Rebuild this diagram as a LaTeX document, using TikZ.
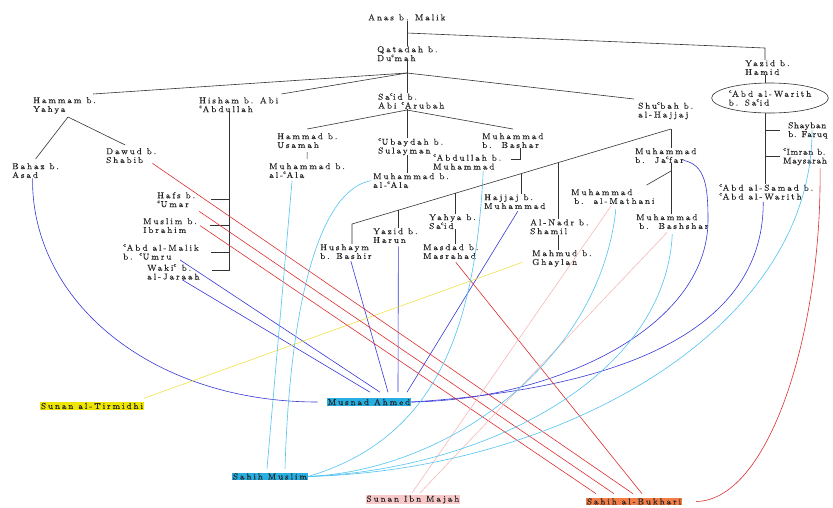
\documentclass[tikz,border=0pt]{standalone}
\usepackage{fontspec}
\usetikzlibrary{shapes.geometric,calc}
\newfontfamily\treeface{lmroman8-regular.otf}[LetterSpace=22,FakeBold=0.3]
\newfontfamily\tightface{lmroman8-regular.otf}[LetterSpace=8,FakeBold=0.3]
\newcommand{\treefont}{\treeface\fontsize{8.6}{8.8}\selectfont}
\newcommand{\tightfont}{\tightface\fontsize{8.6}{8.8}\selectfont}
\newcommand{\ayn}{\textsuperscript{c}}
\definecolor{tirm}{RGB}{238,230,0}
\definecolor{ahmd}{RGB}{40,175,225}
\definecolor{mjh}{RGB}{248,200,200}
\definecolor{bkh}{RGB}{242,125,70}
\definecolor{lnblue}{RGB}{55,55,215}
\definecolor{lncyan}{RGB}{80,195,240}
\definecolor{lnred}{RGB}{220,45,45}
\definecolor{lnpink}{RGB}{246,185,185}
\definecolor{lnyel}{RGB}{240,225,70}
\begin{document}
\begin{tikzpicture}[x=1pt,y=-1pt,
  narr/.style={anchor=north west,align=left,inner sep=0pt,font=\treefont,text=black!85},
  book/.style={fill=#1,inner xsep=1pt,inner ysep=0.5pt,font=\treefont,text=black!85},
  stem/.style={draw=black!80,line width=0.6pt},
  bl/.style={draw=lnblue,line width=0.6pt},
  cy/.style={draw=lncyan,line width=0.6pt},
  rd/.style={draw=lnred,line width=0.6pt},
  pk/.style={draw=lnpink,line width=0.6pt},
  yl/.style={draw=lnyel,line width=0.6pt}]
\useasboundingbox (0,0) rectangle (833,507);
% narrators
\node[narr] (anas) at (368,14) {Anas b. Malik};
\node[narr] (qatadah) at (377,46) {Qatadah b.\\Du\ayn mah};
\node[narr] (yazid) at (745,60) {Yazid b.\\Hamid};
\node[ellipse,draw=black!80,line width=0.6pt,minimum width=105pt,minimum height=30pt,
  inner sep=0pt,align=left,font=\treefont,text=black!85] (warith) at (770,98) {\ayn Abd al-Warith\\b. Sa\ayn id};
\node[narr] (hammam) at (33,97) {Hammam b.\\Yahya};
\node[narr] (hisham) at (199,97) {Hisham b. Abi\\\ayn Abdullah};
\node[narr] (said) at (378,93) {Sa\ayn id b.\\Abi \ayn Arubah};
\node[narr] (shubah) at (638,102) {Shu\ayn bah b.\\al-Hajjaj};
\node[narr,font=\tightfont] (shayban) at (788,122) {Shayban\\b. Faruq};
\node[narr,font=\tightfont] (imran) at (783,148) {\ayn Imran b.\\Maysarah};
\node[narr] (samad) at (719,184) {\ayn Abd al-Samad b.\\\ayn Abd al-Warith};
\node[narr] (bahaz) at (12,163) {Bahaz b.\\Asad};
\node[narr] (dawud) at (106,148) {Dawud b.\\Shabib};
\node[narr] (hafs) at (157,192) {Hafs b.\\\ayn Umar};
\node[narr] (muslimb) at (143,218) {Muslim b.\\Ibrahim};
\node[narr] (malik) at (123,244) {\ayn Abd al-Malik\\b. \ayn Umru};
\node[narr] (waki) at (147,264) {Waki\ayn{} b.\\al-Jaraah};
\node[narr] (hammad) at (277,133) {Hammad b.\\Usamah};
\node[narr] (alaa) at (269,163) {Muhammad b.\\al-\ayn Ala};
\node[narr] (ubaydah) at (378,138) {\ayn Ubaydah b.\\Sulayman};
\node[narr] (alab) at (373,173) {Muhammad b.\\al-\ayn Ala};
\node[narr] (bashar) at (482,133) {Muhammad\\b.~~Bashar};
\node[narr] (abdullah) at (433,154) {\ayn Abdullah b.\\Muhammad};
\node[narr] (jafar) at (635,148) {Muhammad\\b.~~Ja\ayn far};
\node[narr] (mathani) at (571,189) {Muhammad\\\hspace{3pt}b.~~al-Mathani};
\node[narr] (bashshar) at (636,214) {Muhammad\\\hspace{3pt}b.~~Bashshar};
\node[narr] (hushaym) at (320,244) {Hushaym\\b. Bashir};
\node[narr] (harun) at (373,228) {Yazid b.\\Harun};
\node[narr] (yahya) at (429,214) {Yahya b.\\Sa\ayn id};
\node[narr] (masdad) at (423,244) {Masdad b.\\Masrahad};
\node[narr] (hajjaj) at (484,194) {Hajjaj b.\\Muhammad};
\node[narr] (nadr) at (530,219) {Al-Nadr b.\\Shamil};
\node[narr] (mahmud) at (532,250) {Mahmud b.\\Ghaylan};
% collections
\node[book=tirm] (tirmidhi) at (92,406) {Sunan al-Tirmidhi};
\node[book=ahmd] (musnad) at (369,402) {Musnad Ahmed};
\node[book=ahmd] (muslim) at (270,476.5) {Sahih Muslim};
\node[book=mjh] (majah) at (413,499.5) {Sunan Ibn Majah};
\node[book=bkh] (bukhari) at (634,501.5) {Sahih al-Bukhari};
% tree
\coordinate (qa) at (407,33);
\coordinate (ya) at (765,48);
\coordinate (qb) at (407,73);
\coordinate (sb) at (407,110);
\coordinate (br) at (520,159);
\coordinate (hs) at (229,270);
\coordinate (hm) at (68,117);
\coordinate (sh) at (671,129);
\coordinate (hu) at (352,224);
\coordinate (jf) at (671,171);
\draw[stem] (anas.south -| qa) -- (qatadah.north -| qa);
\draw[stem] (qa) -- (ya) -- (yazid.north -| ya);
\draw[stem] (yazid.south -| ya) -- (warith.north -| ya);
\draw[stem] (warith.south -| ya) -- (samad.north -| ya);
\draw[stem] (ya |- shayban.west) -- ([xshift=-8pt]shayban.west);
\draw[stem] (ya |- imran.west) -- ([xshift=-3pt]imran.west);
\draw[stem] (qatadah.south -| qb) -- (said.north -| qb);
\draw[stem] (qb) -- ([xshift=-3pt,yshift=3pt]hammam.north east);
\draw[stem] (qb) -- ([xshift=3pt,yshift=3pt]hisham.north east);
\draw[stem] (qb) -- ([xshift=-4pt,yshift=3pt]shubah.north west);
\draw[stem] (said.south -| sb) -- (ubaydah.north -| sb);
\draw[stem] (sb) -- ([yshift=4pt]hammad.north);
\draw[stem] (sb) -- ([yshift=4pt]bashar.north);
\draw[stem,shorten <=4pt,shorten >=4pt] (hammad.south) -- (alaa.north);
\draw[stem] (ubaydah.south -| sb) -- (alab.north -| sb);
\draw[stem] (br |- bashar.south) -- (br) -- ++(-9,0);
\draw[stem] (hisham.south -| hs) -- (hs) -- ++(-17,0);
\draw[stem] (hs |- hafs.east) -- ++(-18,0);
\draw[stem] (hs |- muslimb.east) -- ++(-19,0);
\draw[stem] (hs |- malik.east) -- ++(-18,0);
\draw[stem] ([yshift=4pt]bahaz.north) -- (hm) -- ([xshift=-6pt,yshift=3pt]dawud.north);
\draw[stem] (sh) -- (jafar.north -| sh);
\draw[stem] (sh) -- (hu) -- (hushaym.north -| hu);
\coordinate (t1) at ($(sh)!0.856!(hu)$);
\coordinate (t2) at ($(sh)!0.677!(hu)$);
\coordinate (t3) at ($(sh)!0.470!(hu)$);
\coordinate (t4) at ($(sh)!0.354!(hu)$);
\draw[stem] (t1) -- (t1 |- harun.north);
\draw[stem] (t2) -- (t2 |- yahya.north);
\draw[stem] (t3) -- (t3 |- hajjaj.north);
\draw[stem] (t4) -- (t4 |- nadr.north);
\draw[stem] (yahya.south -| t2) -- (masdad.north -| t2);
\draw[stem] (nadr.south -| t4) -- (mahmud.north -| t4);
\draw[stem] (jafar.south -| jf) -- (bashshar.north -| jf);
\draw[stem] (jf) -- ([xshift=-8pt,yshift=4pt]mathani.north east);
% Musnad Ahmed
\draw[bl] ([xshift=-3pt]bahaz.south) .. controls (31,300) and (150,402) .. ([xshift=-9pt]musnad.west);
\draw[bl] ([xshift=-19pt]malik.south east) -- ([xshift=11pt,yshift=6pt]musnad.north);
\draw[bl] ([xshift=9pt]waki.south) -- ([xshift=1pt,yshift=6pt]musnad.north);
\draw[bl] ([xshift=5pt,yshift=-2pt]hushaym.south) -- ([xshift=19pt,yshift=6pt]musnad.north);
\draw[bl] ([xshift=3pt,yshift=-3pt]harun.south) -- ([xshift=29pt,yshift=6pt]musnad.north);
\draw[bl] ([xshift=3pt,yshift=-2pt]hajjaj.south) -- ([xshift=38pt,yshift=6pt]musnad.north);
\draw[bl] ([xshift=-13pt,yshift=3pt]jafar.south east) .. controls (705,165) and (708,185) .. (708,220)
  .. controls (708,330) and (550,400) .. (musnad.east);
\draw[bl] ([xshift=-3pt,yshift=-2pt]samad.south) .. controls (764,340) and (600,390) .. (musnad.east);
% Sunan al-Tirmidhi
\draw[yl] ([xshift=-10pt,yshift=-4pt]mahmud.west) -- ([yshift=4pt]tirmidhi.north east);
% Sahih al-Bukhari
\draw[rd] ([xshift=-4pt]dawud.south east) -- ([xshift=-1pt,yshift=4pt]bukhari.north);
\draw[rd] ([xshift=4pt,yshift=-4pt]hafs.south east) -- ([xshift=-20pt,yshift=4pt]bukhari.north);
\draw[rd] ([xshift=3pt]muslimb.east) -- ([xshift=-38pt,yshift=4pt]bukhari.north);
\draw[rd] ([xshift=5pt,yshift=-3pt]masdad.south) -- ([xshift=8pt,yshift=4pt]bukhari.north);
\draw[rd] ([xshift=15pt,yshift=-3pt]imran.south) .. controls (822,330) and (770,500) .. ([xshift=14pt]bukhari.east);
% Sunan Ibn Majah
\draw[pk] ([xshift=-2pt,yshift=-2pt]mathani.south) -- ([xshift=-1pt,yshift=2pt]majah.north);
\draw[pk] ([xshift=-5pt,yshift=-3pt]bashshar.south) -- ([xshift=7pt,yshift=2pt]majah.north);
% Sahih Muslim
\draw[cy] ([xshift=-15pt,yshift=-3pt]alaa.south) -- ([xshift=-3pt,yshift=4pt]muslim.north);
\draw[cy] ([xshift=-2pt]alab.west) .. controls (320,190) and (290,300) .. ([xshift=15pt,yshift=4pt]muslim.north);
\draw[cy] ([xshift=16pt,yshift=-1pt]abdullah.south) .. controls (475,340) and (430,440) .. (muslim.east);
\draw[cy] ([xshift=3pt,yshift=-5pt]mathani.south) .. controls (600,360) and (450,470) .. (muslim.east);
\draw[cy] ([yshift=-5pt]bashshar.south) .. controls (665,380) and (480,470) .. (muslim.east);
\draw[cy] ([xshift=24pt]shayban.west) .. controls (812,330) and (560,470) .. (muslim.east);
\end{tikzpicture}
\end{document}
